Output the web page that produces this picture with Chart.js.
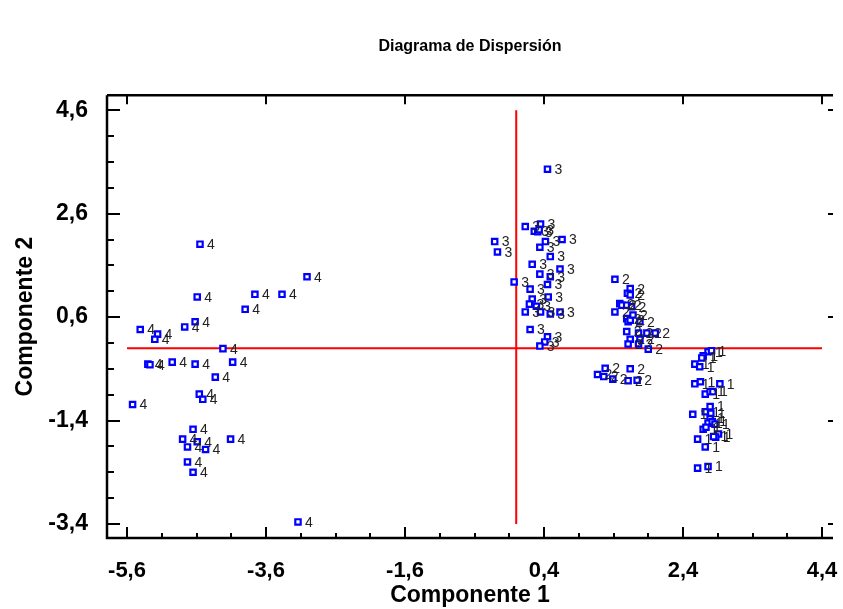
<!DOCTYPE html>
<html>
<head>
<meta charset="utf-8">
<script src="https://cdn.jsdelivr.net/npm/chart.js@4.4.1/dist/chart.umd.min.js"></script>
<style>
  body { margin: 0; background: #fff; }
</style>
</head>
<body>
<canvas id="myChart" width="843" height="609"></canvas>
<script>
// tick labels shown on the axes
const xTickValues = [-5.6, -3.6, -1.6, 0.4, 2.4, 4.4];
const yTickValues = [-3.4, -1.4, 0.6, 2.6, 4.6];

// group 1
const comp1_g1 = [2.76, 2.81, 2.69, 2.67, 2.57, 2.64, 2.57, 2.65, 2.93, 2.72, 2.79, 2.83, 2.54, 2.72, 2.79, 2.80, 2.79, 2.76, 2.82, 2.86, 2.69, 2.73, 2.91, 2.87, 2.61, 2.84, 2.72, 2.61, 2.76];
const comp2_g1 = [-0.07, -0.05, -0.15, -0.19, -0.31, -0.36, -0.69, -0.65, -0.69, -0.89, -0.84, -0.84, -1.28, -1.23, -1.13, -1.26, -1.36, -1.45, -1.42, -1.47, -1.57, -1.53, -1.66, -1.72, -1.76, -1.71, -1.91, -2.32, -2.29];

// group 2
const comp1_g2 = [1.42, 1.64, 1.60, 1.64, 1.49, 1.52, 1.59, 1.42, 1.66, 1.59, 1.61, 1.64, 1.68, 1.78, 1.59, 1.76, 1.88, 2.00, 1.64, 1.78, 1.61, 1.76, 1.90, 1.28, 1.17, 1.26, 1.39, 1.64, 1.61, 1.74];
const comp2_g2 = [1.33, 1.15, 1.06, 1.03, 0.86, 0.83, 0.83, 0.70, 0.80, 0.57, 0.51, 0.54, 0.64, 0.51, 0.32, 0.29, 0.29, 0.29, 0.17, 0.17, 0.08, 0.08, -0.02, -0.39, -0.51, -0.55, -0.60, -0.40, -0.63, -0.62];

// group 3
const comp1_g3 = [0.45, 0.13, 0.35, 0.26, 0.31, 0.33, -0.31, -0.27, 0.42, 0.66, 0.34, 0.49, 0.23, 0.63, 0.34, 0.49, -0.03, 0.45, 0.20, 0.46, 0.23, 0.19, 0.29, 0.35, 0.13, 0.49, 0.63, 0.20, 0.45, 0.41, 0.34];
const comp2_g3 = [3.46, 2.35, 2.40, 2.26, 2.25, 2.29, 2.06, 1.86, 2.06, 2.10, 1.95, 1.77, 1.62, 1.53, 1.43, 1.38, 1.28, 1.23, 1.14, 0.99, 0.95, 0.85, 0.81, 0.70, 0.70, 0.66, 0.70, 0.36, 0.22, 0.12, 0.04];

// group 4
const comp1_g4 = [-4.55, -4.59, -3.76, -3.37, -3.01, -3.90, -5.41, -5.16, -5.20, -4.77, -4.62, -4.22, -5.30, -5.27, -4.95, -4.62, -4.08, -4.33, -4.56, -4.51, -5.52, -4.65, -4.80, -4.59, -4.73, -4.47, -4.11, -4.73, -4.65, -3.14];
const comp2_g4 = [2.01, 0.99, 1.04, 1.04, 1.38, 0.75, 0.36, 0.27, 0.17, 0.41, 0.51, -0.01, -0.31, -0.32, -0.27, -0.31, -0.27, -0.56, -0.89, -0.99, -1.09, -1.57, -1.76, -1.81, -1.91, -1.96, -1.76, -2.20, -2.40, -3.36];

// red reference lines
const hLineX = [-5.6, 4.4];
const vLineY = [4.6, -3.4];

const fmt = v => Number(v).toFixed(1).replace('.', ',');
const toPoints = (xs, ys) => xs.map((x, i) => ({x: x, y: ys[i]}));

const axisFont = {family: 'Arial, "Liberation Sans", sans-serif', size: 23, weight: 'bold'};
const xTickFont = {family: 'Arial, "Liberation Sans", sans-serif', size: 22, weight: 'bold'};

function groupSet(label, xs, ys) {
  return {
    label: label,
    pointText: label,
    data: toPoints(xs, ys),
    showLine: false,
    pointStyle: 'rect',
    pointRadius: 3.8,
    pointHoverRadius: 3.8,
    pointBorderWidth: 2.2,
    pointBorderColor: '#0000ff',
    pointBackgroundColor: '#ffffff',
    order: 1
  };
}

// numbers written next to each point
const pointLabels = {
  id: 'pointLabels',
  afterDatasetsDraw(chart) {
    const ctx = chart.ctx;
    ctx.save();
    ctx.font = '14px Arial, "Liberation Sans", sans-serif';
    ctx.fillStyle = '#222222';
    ctx.textBaseline = 'middle';
    chart.data.datasets.forEach((ds, i) => {
      if (!ds.pointText) return;
      chart.getDatasetMeta(i).data.forEach(pt => {
        ctx.fillText(ds.pointText, pt.x + 7, pt.y + 1);
      });
    });
    ctx.restore();
  }
};

// frame with inward ticks
const frame = {
  id: 'frame',
  afterDraw(chart) {
    const {ctx, chartArea: a, scales} = chart;
    const xs = scales.x, ys = scales.y;
    ctx.save();
    ctx.strokeStyle = '#000';
    ctx.lineWidth = 2.5;
    ctx.beginPath();
    ctx.moveTo(a.left, a.top);
    ctx.lineTo(a.right, a.top);
    ctx.moveTo(a.left, a.top);
    ctx.lineTo(a.left, a.bottom);
    ctx.lineTo(a.right, a.bottom);
    ctx.stroke();

    ctx.lineWidth = 2;
    ctx.beginPath();
    for (let v = -5.6; v <= 4.41; v += 0.5) {
      const px = Math.round(xs.getPixelForValue(v));
      const major = Math.abs(((v + 5.6) / 2) - Math.round((v + 5.6) / 2)) < 0.01;
      const len = major ? 11 : 5;
      ctx.moveTo(px, a.bottom);
      ctx.lineTo(px, a.bottom - len);
      if (major) {
        ctx.moveTo(px, a.top);
        ctx.lineTo(px, a.top + 9);
      }
    }
    for (let v = -3.4; v <= 4.61; v += 0.5) {
      const py = Math.round(ys.getPixelForValue(v));
      const major = Math.abs(((v + 3.4) / 2) - Math.round((v + 3.4) / 2)) < 0.01;
      const len = major ? 13 : 7;
      ctx.moveTo(a.left, py);
      ctx.lineTo(a.left + len, py);
      if (major) {
        ctx.moveTo(a.right - 5, py);
        ctx.lineTo(a.right, py);
      }
    }
    ctx.stroke();
    ctx.restore();
  }
};

const ctx = document.getElementById('myChart');

const chart = new Chart(ctx, {
  type: 'scatter',
  data: {
    datasets: [
      groupSet('1', comp1_g1, comp2_g1),
      groupSet('2', comp1_g2, comp2_g2),
      groupSet('3', comp1_g3, comp2_g3),
      groupSet('4', comp1_g4, comp2_g4),
      {
        type: 'line',
        data: toPoints(hLineX, [0, 0]),
        borderColor: '#ff0000',
        borderWidth: 2,
        pointRadius: 0,
        order: 2
      },
      {
        type: 'line',
        data: toPoints([0, 0], vLineY),
        borderColor: '#ff0000',
        borderWidth: 2,
        pointRadius: 0,
        order: 2
      }
    ]
  },
  options: {
    responsive: false,
    animation: false,
    layout: { padding: { top: 0, right: 10, left: 0, bottom: 0 } },
    plugins: {
      legend: { display: false },
      tooltip: { enabled: false },
      title: {
        display: true,
        fullSize: false,
        text: 'Diagrama de Dispersión',
        color: '#000',
        font: {family: 'Arial, "Liberation Sans", sans-serif', size: 16, weight: 'bold'},
        padding: { top: 37, bottom: 39 }
      }
    },
    scales: {
      x: {
        type: 'linear',
        min: -5.888,
        max: 4.558,
        afterBuildTicks: s => { s.ticks = xTickValues.map(v => ({value: v})); },
        afterFit: s => { s.height = 71; s.paddingLeft = 0; s.paddingRight = 0; },
        grid: { display: false, drawTicks: false },
        border: { display: false },
        ticks: { callback: fmt, color: '#000', font: xTickFont, padding: 20, maxRotation: 0, autoSkip: false },
        title: { display: true, text: 'Componente 1', color: '#000', font: axisFont, padding: { top: 0, bottom: 0 } }
      },
      y: {
        type: 'linear',
        min: -3.671,
        max: 4.890,
        afterBuildTicks: s => { s.ticks = yTickValues.map(v => ({value: v})); },
        afterFit: s => { s.width = 107; s.paddingTop = 0; s.paddingBottom = 0; },
        grid: { display: false, drawTicks: false },
        border: { display: false },
        ticks: { callback: fmt, color: '#000', font: axisFont, padding: 19, autoSkip: false },
        title: { display: true, text: 'Componente 2', color: '#000', font: axisFont, padding: { top: 12, bottom: 0 } }
      }
    }
  },
  plugins: [pointLabels, frame]
});
</script>
</body>
</html>
